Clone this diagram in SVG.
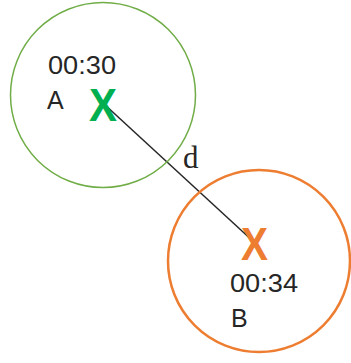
<svg xmlns="http://www.w3.org/2000/svg" width="351" height="363" viewBox="0 0 351 363">
<style>
.lbl{font-family:"Liberation Sans",Arial,sans-serif;font-size:25px;fill:#262626}
.x{font-family:"Liberation Sans",Arial,sans-serif;font-weight:bold;font-size:47px}
</style>
<rect width="351" height="363" fill="#fff"/>
<g id="connectors">
<line x1="104" y1="104" x2="255" y2="243" stroke="#262626" stroke-width="1.5"/>
<text x="183" y="168" font-family="'Liberation Serif',serif" font-size="31" fill="#262626">d</text>
</g>
<g id="nodeA">
<circle cx="103" cy="95" r="92.5" fill="none" stroke="#70AD47" stroke-width="1.5"/>
<text class="lbl" x="48" y="74" textLength="68" lengthAdjust="spacingAndGlyphs">00:30</text>
<text class="lbl" x="47" y="109">A</text>
<text class="x" x="89" y="121" fill="#00B050" textLength="28" lengthAdjust="spacingAndGlyphs">X</text>
</g>
<g id="nodeB">
<circle cx="259" cy="261" r="91" fill="none" stroke="#ED7D31" stroke-width="2.5"/>
<text class="x" x="241" y="260" fill="#ED7D31" textLength="27" lengthAdjust="spacingAndGlyphs">X</text>
<text class="lbl" x="230" y="292" textLength="68" lengthAdjust="spacingAndGlyphs">00:34</text>
<text class="lbl" x="231" y="327">B</text>
</g>
</svg>
